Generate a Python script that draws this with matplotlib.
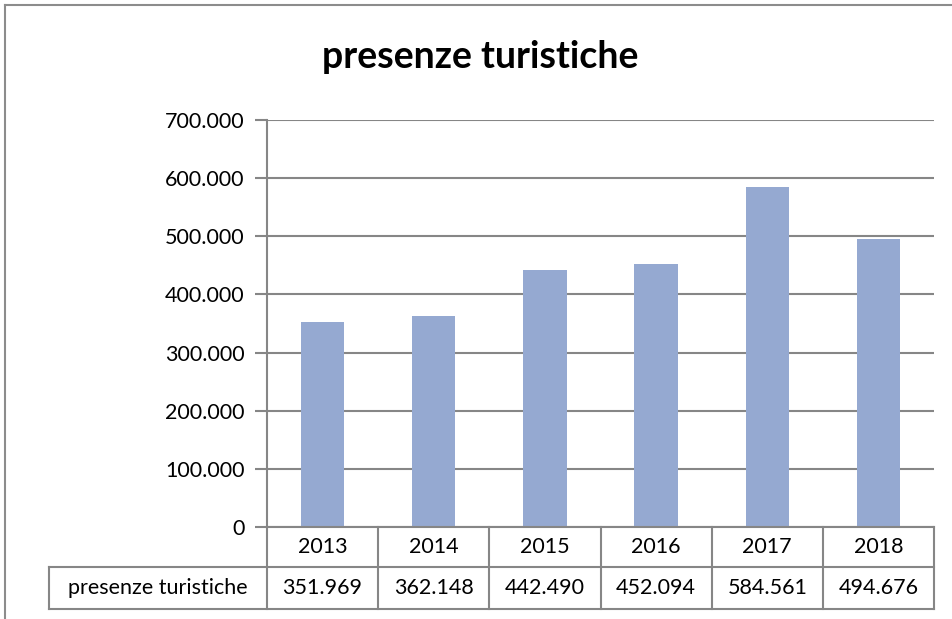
import matplotlib.pyplot as plt
from matplotlib.ticker import FuncFormatter
from matplotlib.lines import Line2D

# Dati
anni = ['2013', '2014', '2015', '2016', '2017', '2018']
presenze = [351969, 362148, 442490, 452094, 584561, 494676]
serie = 'presenze turistiche'
titolo = 'presenze turistiche'

plt.rcParams['font.family'] = ['Lato', 'DejaVu Sans']

W, H = 952, 619
fig = plt.figure(figsize=(W / 100, H / 100), dpi=100)

# area del grafico (in pixel dell'immagine)
x0, x1 = 267, 934
y_top, y_zero = 120, 527
ax = fig.add_axes([x0 / W, 1 - y_zero / H, (x1 - x0) / W, (y_zero - y_top) / H])

grigio = '#868686'
x = range(len(anni))
ax.bar(x, presenze, width=0.39, color='#95A9D1', zorder=2)
ax.set_xlim(-0.5, len(anni) - 0.5)
ax.set_ylim(0, 700000)
ax.set_yticks(range(0, 700001, 100000))
ax.yaxis.set_major_formatter(FuncFormatter(lambda v, p: f'{int(v):,}'.replace(',', '.')))
ax.grid(axis='y', color=grigio, linewidth=1.5, zorder=0)
ax.set_xticks([])
for s in ['top', 'right', 'bottom']:
    ax.spines[s].set_visible(False)
ax.spines['left'].set_color(grigio)
ax.spines['left'].set_linewidth(1.5)
ax.tick_params(axis='y', length=9, width=1.5, color=grigio, labelsize=15.5, pad=7)

# tabella dati sotto il grafico
r1 = 567
r2 = 609
lab_left = 49
col_w = (x1 - x0) / len(anni)

def fx(px):
    return px / W

def fy(py):
    return 1 - py / H

lw = 1.5
lines = []
# bordi orizzontali
lines.append(([x0, x1], [y_zero, y_zero]))
lines.append(([lab_left, x1], [r1, r1]))
lines.append(([lab_left, x1], [r2, r2]))
# verticali
lines.append(([lab_left, lab_left], [r1, r2]))
for i in range(len(anni) + 1):
    xx = x0 + i * col_w
    lines.append(([xx, xx], [y_zero, r2]))
for xs, ys in lines:
    fig.add_artist(Line2D([fx(v) for v in xs], [fy(v) for v in ys], color=grigio, linewidth=lw))

for i, (a, v) in enumerate(zip(anni, presenze)):
    cx = x0 + (i + 0.5) * col_w
    fig.text(fx(cx), fy((y_zero + r1) / 2), a, ha='center', va='center', fontsize=15.5)
    fig.text(fx(cx), fy((r1 + r2) / 2), f'{v:,}'.replace(',', '.'), ha='center', va='center', fontsize=15.5)
fig.text(fx((lab_left + x0) / 2), fy((r1 + r2) / 2), serie, ha='center', va='center', fontsize=15.5)

# titolo
fig.text(fx(480), fy(57), titolo, ha='center', va='center', fontsize=27, fontweight='bold')

# bordo del grafico (solo sinistra e alto visibili)
fig.add_artist(Line2D([fx(5), fx(5)], [fy(5), 0], color='#8c8c8c', linewidth=1.5))
fig.add_artist(Line2D([fx(5), 1], [fy(5), fy(5)], color='#8c8c8c', linewidth=1.5))

fig.savefig('out.png', dpi=100)
